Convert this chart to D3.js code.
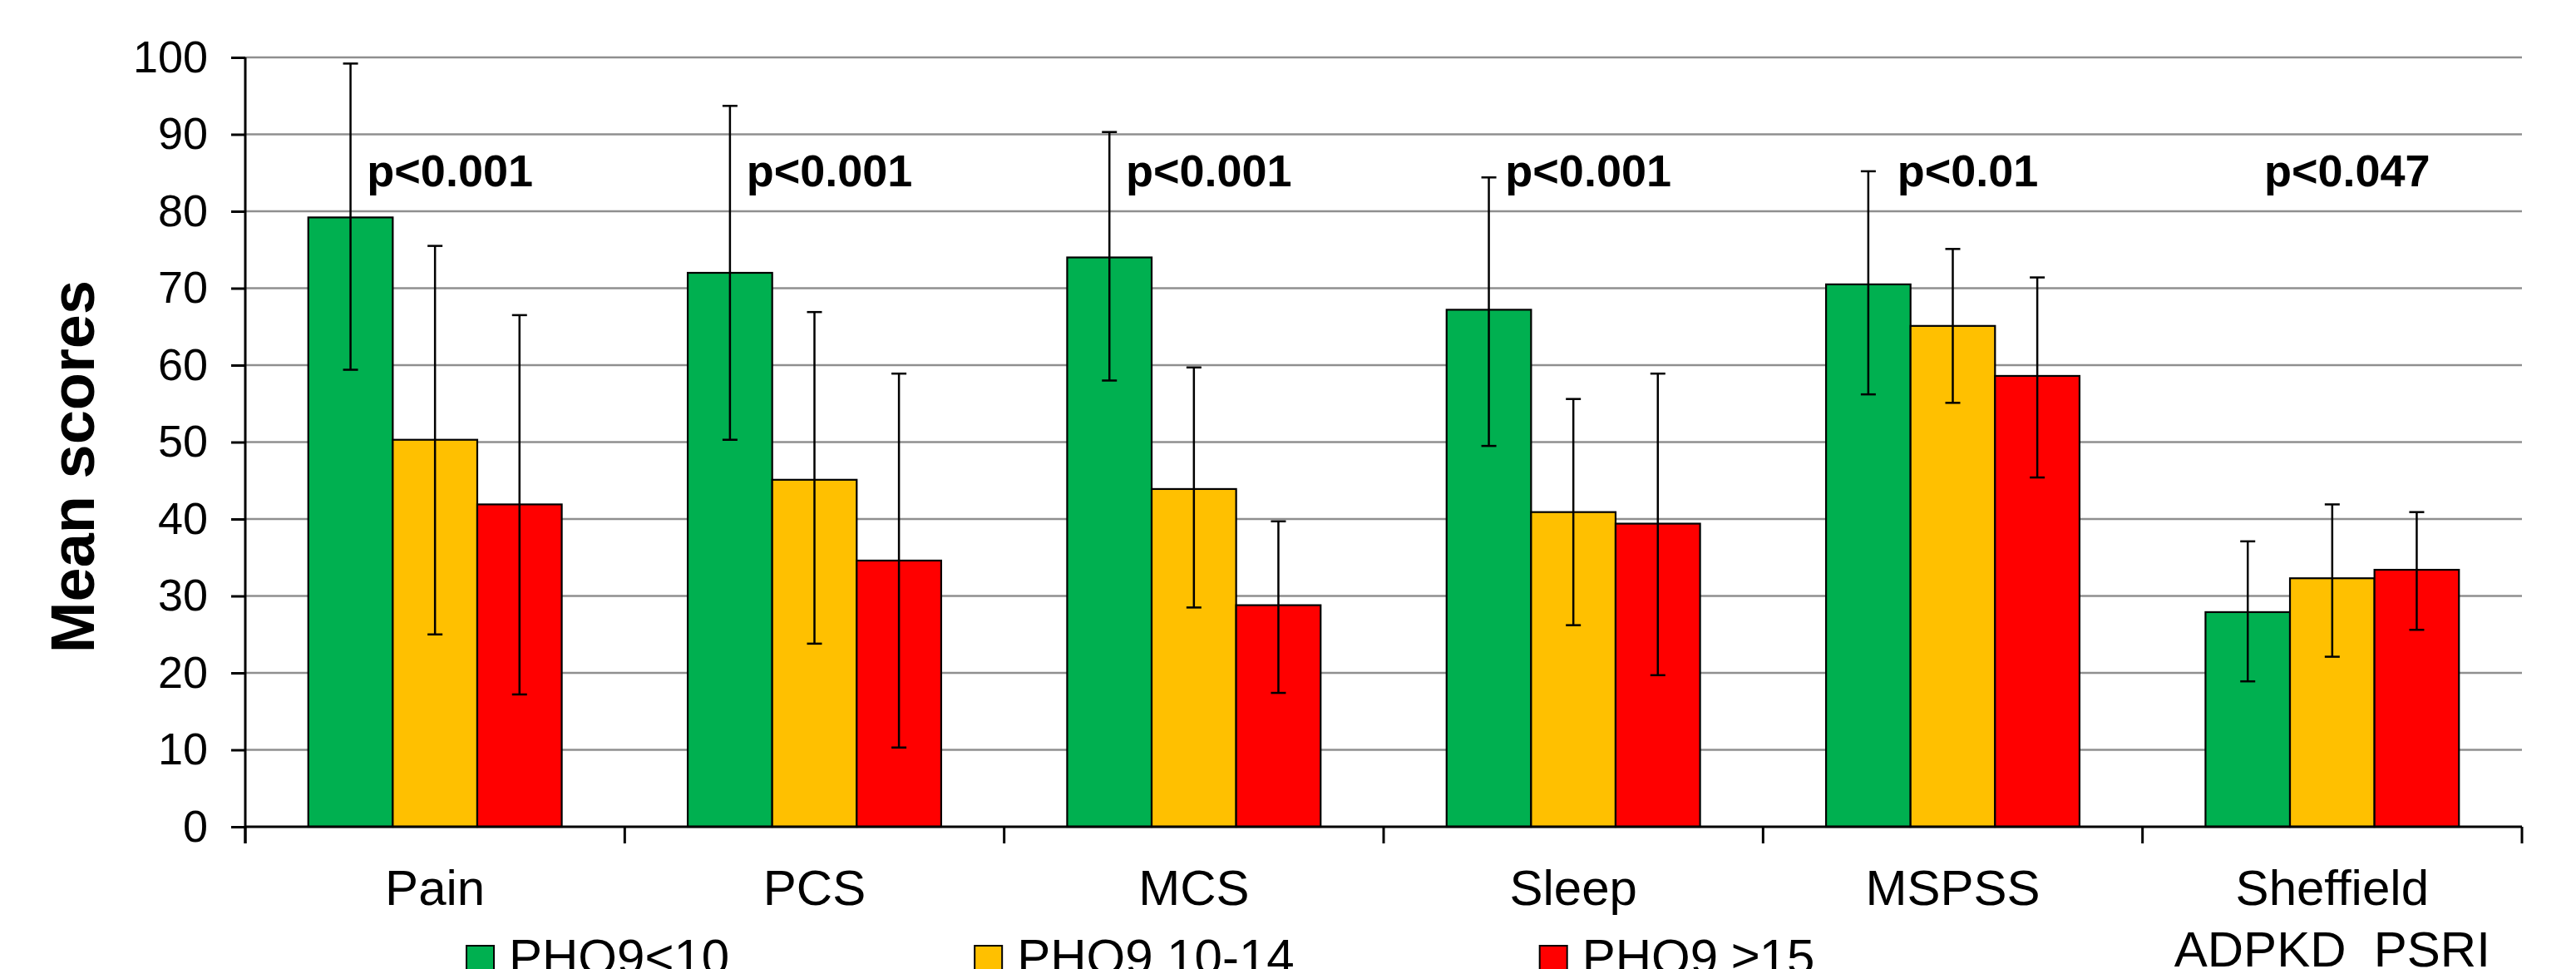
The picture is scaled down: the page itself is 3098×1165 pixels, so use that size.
<!DOCTYPE html>
<html>
<head>
<meta charset="utf-8">
<script src="https://cdn.jsdelivr.net/npm/d3@7"></script>
<style>
  body { margin: 0; background: #fff; }
  svg { display: block; font-family: "Liberation Sans", Arial, sans-serif; }
</style>
</head>
<body>
<svg id="chart"></svg>
<script>
// ------------------------------------------------------------------
//  Mean scores by PHQ9 group, grouped bars with error bars
// ------------------------------------------------------------------

var categories = ["Pain", "PCS", "MCS", "Sleep", "MSPSS", "Sheffield ADPKD PSRI"];
var categoryLines = [["Pain"], ["PCS"], ["MCS"], ["Sleep"], ["MSPSS"], ["Sheffield", "ADPKD  PSRI"]];
var seriesNames = ["PHQ9<10", "PHQ9 10-14", "PHQ9 \u226515"];
var seriesColors = ["#00B050", "#FFC000", "#FF0000"];

// mean values per series
var phqLow  = [79.2, 72.0, 74.0, 67.2, 70.5, 27.9];
var phqMid  = [50.3, 45.1, 43.9, 40.9, 65.1, 32.3];
var phqHigh = [41.9, 34.6, 28.8, 39.4, 58.6, 33.4];

// error bar ends [lower, upper] per series
var phqLowErr  = [[59.4, 99.2], [50.3, 93.7], [58.0, 90.3], [49.5, 84.4], [56.2, 85.2], [18.9, 37.1]];
var phqMidErr  = [[25.0, 75.5], [23.8, 66.9], [28.5, 59.7], [26.2, 55.6], [55.1, 75.1], [22.1, 41.9]];
var phqHighErr = [[17.2, 66.5], [10.3, 58.9], [17.4, 39.7], [19.7, 58.9], [45.4, 71.4], [25.6, 40.9]];

var pValues = ["p<0.001", "p<0.001", "p<0.001", "p<0.001", "p<0.01", "p<0.047"];
var yTicks = [0, 10, 20, 30, 40, 50, 60, 70, 80, 90, 100];

var width = 3098,
    height = 1165;
var plot = { left: 295, right: 3033, top: 69, bottom: 994 };

var seriesValues = [phqLow, phqMid, phqHigh];
var seriesErrors = [phqLowErr, phqMidErr, phqHighErr];

var svg = d3.select("#chart")
  .attr("width", width)
  .attr("height", height)
  .attr("viewBox", `0 0 ${width} ${height}`);

var x0 = d3.scaleBand().domain(categories).range([plot.left, plot.right]);
var groupWidth = x0.bandwidth() * 0.668;
var groupOffset = (x0.bandwidth() - groupWidth) / 2;
var x1 = d3.scaleBand().domain(seriesNames).range([0, groupWidth]);
var y = d3.scaleLinear().domain([0, 100]).range([plot.bottom, plot.top]);

// gridlines
svg.append("g")
  .selectAll("line")
  .data(yTicks.filter(d => d > 0))
  .enter()
  .append("line")
    .attr("x1", plot.left)
    .attr("x2", plot.right)
    .attr("y1", d => y(d))
    .attr("y2", d => y(d))
    .attr("stroke", "#8f8f8f")
    .attr("stroke-width", 2.5);

// y axis
var yAxis = svg.append("g")
  .attr("transform", `translate(${plot.left},0)`)
  .call(d3.axisLeft(y).tickValues(yTicks).tickSize(17).tickPadding(28));
yAxis.select(".domain").remove();
yAxis.selectAll(".tick line").attr("stroke", "#000").attr("stroke-width", 3);
yAxis.selectAll(".tick text")
  .attr("font-family", "Liberation Sans, Arial, sans-serif")
  .attr("font-size", 54)
  .attr("fill", "#000");

svg.append("line")
  .attr("x1", plot.left).attr("x2", plot.left)
  .attr("y1", plot.top).attr("y2", plot.bottom + 20)
  .attr("stroke", "#000").attr("stroke-width", 3);

// bars
var groups = svg.append("g")
  .selectAll("g")
  .data(categories)
  .enter()
  .append("g")
    .attr("transform", d => `translate(${x0(d) + groupOffset},0)`);

groups.selectAll("rect")
  .data((d, i) => seriesNames.map((s, k) => ({ series: s, k: k, value: seriesValues[k][i] })))
  .enter()
  .append("rect")
    .attr("x", d => x1(d.series))
    .attr("y", d => y(d.value))
    .attr("width", x1.bandwidth())
    .attr("height", d => y(0) - y(d.value))
    .attr("fill", d => seriesColors[d.k])
    .attr("stroke", "#000")
    .attr("stroke-width", 2.2);

// error bars
var errs = groups.selectAll("g.err")
  .data((d, i) => seriesNames.map((s, k) => ({ series: s, lo: seriesErrors[k][i][0], hi: seriesErrors[k][i][1] })))
  .enter()
  .append("g")
    .attr("class", "err")
    .attr("transform", d => `translate(${x1(d.series) + x1.bandwidth() / 2},0)`)
    .attr("stroke", "#000")
    .attr("stroke-width", 2.5);
errs.append("line").attr("x1", 0).attr("x2", 0).attr("y1", d => y(d.lo)).attr("y2", d => y(d.hi));
errs.append("line").attr("x1", -9).attr("x2", 9).attr("y1", d => y(d.lo)).attr("y2", d => y(d.lo));
errs.append("line").attr("x1", -9).attr("x2", 9).attr("y1", d => y(d.hi)).attr("y2", d => y(d.hi));

// x axis baseline and ticks at band edges
svg.append("line")
  .attr("x1", plot.left).attr("x2", plot.right)
  .attr("y1", y(0)).attr("y2", y(0))
  .attr("stroke", "#000").attr("stroke-width", 3);

svg.append("g")
  .selectAll("line")
  .data(categories.map(c => x0(c) + x0.bandwidth()).concat([plot.left]))
  .enter()
  .append("line")
    .attr("x1", d => d).attr("x2", d => d)
    .attr("y1", y(0)).attr("y2", y(0) + 20)
    .attr("stroke", "#000").attr("stroke-width", 3);

// category labels
var catText = svg.append("g")
  .selectAll("text")
  .data(categories)
  .enter()
  .append("text")
    .attr("text-anchor", "middle")
    .attr("font-size", 60)
    .attr("fill", "#000")
    .style("white-space", "pre");
catText.selectAll("tspan")
  .data((d, i) => categoryLines[i])
  .enter()
  .append("tspan")
    .attr("x", function () { var c = d3.select(this.parentNode).datum(); return x0(c) + x0.bandwidth() / 2; })
    .attr("y", (d, j) => 1088 + j * 74)
    .text(d => d);

// p values
svg.append("g")
  .selectAll("text")
  .data(pValues)
  .enter()
  .append("text")
    .attr("x", (d, i) => x0(categories[i]) + x0.bandwidth() / 2 + 18)
    .attr("y", 224)
    .attr("text-anchor", "middle")
    .attr("font-size", 54)
    .attr("font-weight", "bold")
    .attr("fill", "#000")
    .text(d => d);

// y axis title
svg.append("text")
  .attr("transform", "translate(113,561) rotate(-90)")
  .attr("text-anchor", "middle")
  .attr("font-size", 74)
  .attr("font-weight", "bold")
  .attr("fill", "#000")
  .text("Mean scores");

// legend (cut by the bottom edge like the original)
var legendX = 561;
seriesNames.forEach(function (name, k) {
  svg.append("rect")
    .attr("x", legendX).attr("y", 1137)
    .attr("width", 33).attr("height", 33)
    .attr("fill", seriesColors[k])
    .attr("stroke", "#000").attr("stroke-width", 2);
  var t = svg.append("text")
    .attr("x", legendX + 51).attr("y", 1171)
    .attr("font-size", 60)
    .attr("fill", "#000")
    .text(name);
  legendX = legendX + 51 + t.node().getComputedTextLength() + 295;
});
</script>
</body>
</html>
